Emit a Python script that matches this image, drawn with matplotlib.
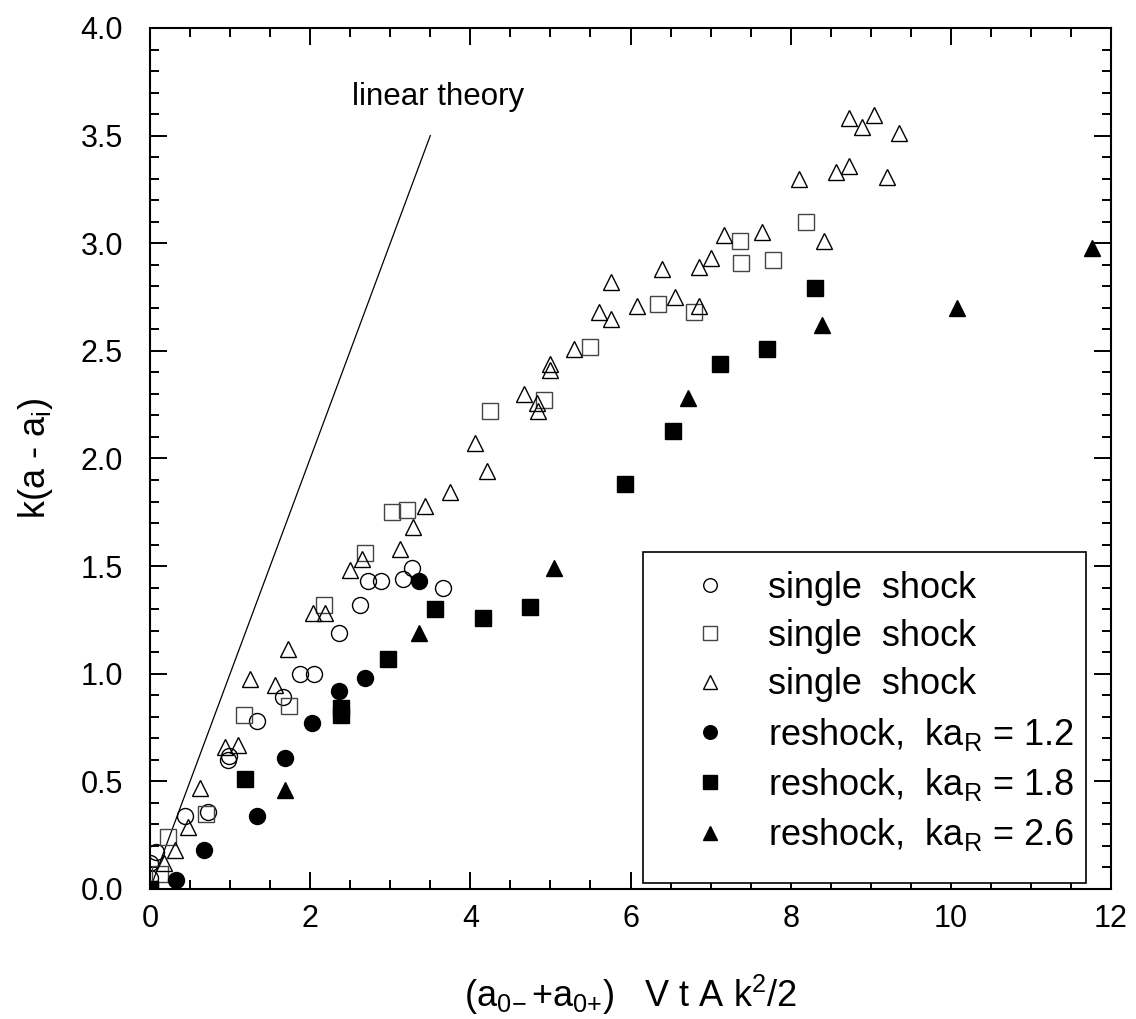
import matplotlib
matplotlib.use("Agg")
import matplotlib.pyplot as plt
from matplotlib.patches import Rectangle
from matplotlib.ticker import MultipleLocator, FormatStrFormatter

plt.rcParams['font.family'] = ['Liberation Sans', 'DejaVu Sans']
plt.rcParams['mathtext.fontset'] = 'custom'
plt.rcParams['mathtext.rm'] = 'Liberation Sans'
plt.rcParams['mathtext.it'] = 'Liberation Sans'

# single shock, series 1 (open circles)
ss1_x = [0.00, 0.00, 0.08, 0.44, 0.73, 0.97, 0.99, 1.34, 1.66, 1.87, 2.05,
         2.36, 2.62, 2.72, 2.88, 3.16, 3.27, 3.66]
ss1_y = [0.05, 0.12, 0.17, 0.34, 0.36, 0.60, 0.62, 0.78, 0.89, 1.00, 1.00,
         1.19, 1.32, 1.43, 1.43, 1.44, 1.49, 1.40]

# single shock, series 2 (open squares)
ss2_x = [0.00, 0.12, 0.23, 0.70, 1.18, 1.73, 2.17, 2.68, 3.02, 3.21, 4.25,
         4.92, 5.49, 6.34, 6.79, 7.37, 7.38, 7.78, 8.19]
ss2_y = [0.00, 0.07, 0.24, 0.35, 0.81, 0.85, 1.32, 1.56, 1.75, 1.76, 2.22,
         2.27, 2.52, 2.72, 2.68, 3.01, 2.91, 2.92, 3.10]

# single shock, series 3 (open triangles)
ss3_x = [0.17, 0.31, 0.47, 0.62, 0.94, 1.10, 1.25, 1.56, 1.72, 2.03, 2.19,
         2.50, 2.65, 3.12, 3.28, 3.43, 3.75, 4.06, 4.21, 4.67, 4.83, 4.84,
         4.99, 4.99, 5.30, 5.61, 5.76, 5.76, 6.08, 6.39, 6.55, 6.86, 6.86,
         7.01, 7.17, 7.64, 8.11, 8.42, 8.57, 8.73, 8.73, 8.89, 9.04, 9.20,
         9.35]
ss3_y = [0.12, 0.18, 0.29, 0.47, 0.66, 0.67, 0.975, 0.95, 1.115, 1.28, 1.28,
         1.48, 1.535, 1.58, 1.68, 1.78, 1.845, 2.07, 1.94, 2.30, 2.26, 2.22,
         2.44, 2.41, 2.51, 2.68, 2.65, 2.82, 2.71, 2.88, 2.75, 2.89, 2.71,
         2.93, 3.04, 3.05, 3.30, 3.01, 3.33, 3.36, 3.58, 3.54, 3.595, 3.31,
         3.51]

# reshock, ka_R = 1.2 (filled circles)
rs12_x = [0.00, 0.33, 0.67, 1.34, 1.69, 2.02, 2.36, 2.69, 3.36]
rs12_y = [0.00, 0.04, 0.18, 0.34, 0.61, 0.77, 0.92, 0.98, 1.43]

# reshock, ka_R = 1.8 (filled squares)
rs18_x = [0.00, 1.19, 2.38, 2.38, 2.97, 3.56, 4.16, 4.75, 5.93, 6.53, 7.12,
          7.71, 8.30]
rs18_y = [0.00, 0.51, 0.81, 0.84, 1.07, 1.30, 1.26, 1.31, 1.88, 2.13, 2.44,
          2.51, 2.79]

# reshock, ka_R = 2.6 (filled triangles)
rs26_x = [1.68, 3.36, 5.04, 6.72, 8.39, 10.08, 11.76]
rs26_y = [0.46, 1.19, 1.49, 2.28, 2.62, 2.70, 2.98]

# linear theory
lin_x = [0.0, 3.5]
lin_y = [0.0, 3.5]

fig = plt.figure(figsize=(11.36, 10.19), dpi=100)
ax = fig.add_axes([150 / 1136, 130 / 1019, 961 / 1136, 861 / 1019])

ms = 11.5
mew = 1.0
ax.plot(lin_x, lin_y, color='black', lw=0.9, zorder=1)
ax.plot(ss1_x, ss1_y, 'o', ms=ms, mfc='none', mec='black', mew=mew,
        label='single  shock', zorder=3)
ax.plot(ss2_x, ss2_y, 's', ms=ms, mfc='none', mec='#444444', mew=mew,
        label='single  shock', zorder=3)
ax.plot(ss3_x, ss3_y, '^', ms=ms, mfc='none', mec='black', mew=mew,
        label='single  shock', zorder=3)
ax.plot(rs12_x, rs12_y, 'o', ms=ms, mfc='black', mec='black', mew=mew,
        label=r'reshock,  ka$_\mathregular{R}$ = 1.2', zorder=4)
ax.plot(rs18_x, rs18_y, 's', ms=ms, mfc='black', mec='black', mew=mew,
        label=r'reshock,  ka$_\mathregular{R}$ = 1.8', zorder=4)
ax.plot(rs26_x, rs26_y, '^', ms=ms, mfc='black', mec='black', mew=mew,
        label=r'reshock,  ka$_\mathregular{R}$ = 2.6', zorder=4)

ax.text(2.52, 3.68, 'linear theory', fontsize=22.5, ha='left', va='center')

ax.set_xlim(0, 12)
ax.set_ylim(0, 4.0)
ax.xaxis.set_major_locator(MultipleLocator(2))
ax.xaxis.set_minor_locator(MultipleLocator(0.5))
ax.yaxis.set_major_locator(MultipleLocator(0.5))
ax.yaxis.set_minor_locator(MultipleLocator(0.1))
ax.xaxis.set_major_formatter(FormatStrFormatter('%d'))
ax.yaxis.set_major_formatter(FormatStrFormatter('%.1f'))

for s in ax.spines.values():
    s.set_linewidth(1.5)
ax.tick_params(which='both', direction='in', top=True, right=True,
               width=1.4, labelsize=22)
ax.tick_params(which='major', length=12)
ax.tick_params(which='minor', length=6.5)
ax.tick_params(axis='x', which='major', pad=11)
ax.tick_params(axis='y', which='major', pad=19.5)

ax.set_xlabel(r'(a$_\mathregular{0\!-}$+a$_\mathregular{0{+}}$)   V t A k$^\mathregular{2}$/2',
              fontsize=26, labelpad=28)
ax.set_ylabel(r'k(a - a$_\mathregular{i}$)', fontsize=26, labelpad=18)

# legend frame, drawn as its own box so the padding can differ per side
frame = Rectangle((0.513, 0.007), 0.461, 0.384, transform=ax.transAxes,
                  facecolor='white', edgecolor='black', linewidth=1.2,
                  zorder=5)
ax.add_patch(frame)

leg = ax.legend(loc='upper left', bbox_to_anchor=(0.5453, 0.3698),
                borderaxespad=0, fontsize=26, frameon=False,
                markerscale=0.85, handlelength=2.0, handletextpad=0.61,
                labelspacing=0.37, borderpad=0)
leg.set_zorder(6)

fig.savefig('out.png', dpi=100)
